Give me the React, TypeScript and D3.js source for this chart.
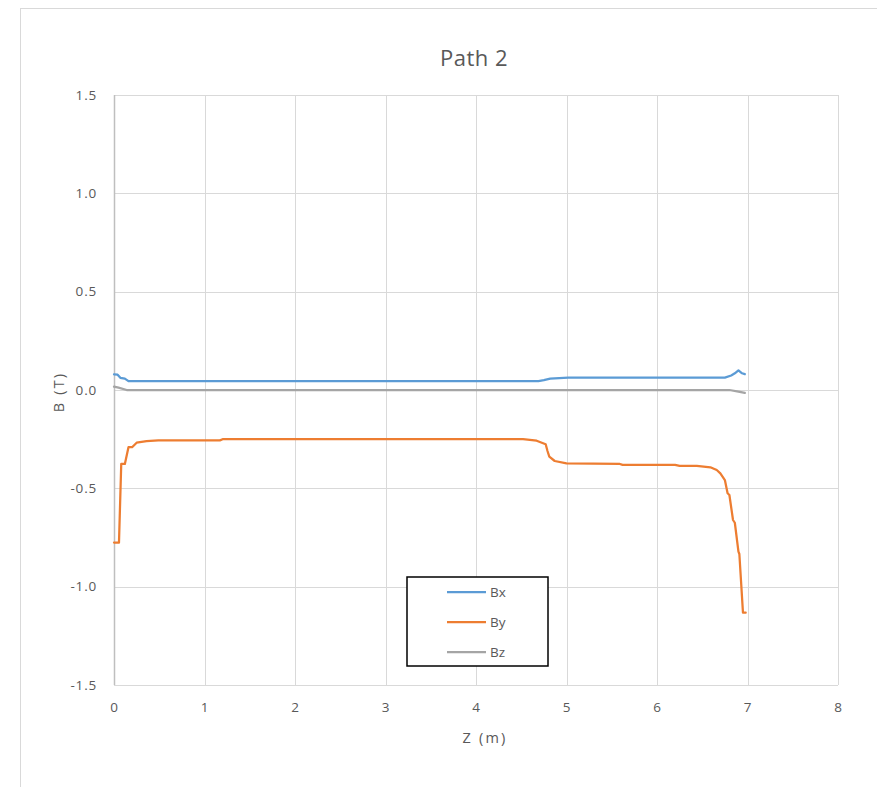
import React from "react";
import * as d3 from "d3";

const titleText = "Path 2";
const xLabel = "Z (m)";
const yLabel = "B (T)";
const xTicks = [0, 1, 2, 3, 4, 5, 6, 7, 8];
const yTicks = [-1.5, -1.0, -0.5, 0.0, 0.5, 1.0, 1.5];

const bxZ = [0, 0.04, 0.07, 0.12, 0.16, 1.0, 2.0, 3.0, 4.0, 4.69, 4.75, 4.82, 5.02, 5.5, 6.0, 6.5, 6.75, 6.82, 6.86, 6.90, 6.94, 6.97];
const bxB = [0.08, 0.078, 0.062, 0.058, 0.045, 0.045, 0.045, 0.045, 0.045, 0.045, 0.05, 0.058, 0.063, 0.063, 0.063, 0.063, 0.063, 0.074, 0.085, 0.1, 0.085, 0.081];

const byZ = [0, 0.055, 0.08, 0.12, 0.16, 0.2, 0.25, 0.36, 0.49, 1.17, 1.2, 2.0, 3.0, 4.0, 4.52, 4.67, 4.77, 4.79, 4.81, 4.87, 5.0, 5.59, 5.62, 6.2, 6.25, 6.44, 6.59, 6.66, 6.70, 6.75, 6.78, 6.80, 6.84, 6.86, 6.90, 6.91, 6.95, 6.98];
const byB = [-0.776, -0.776, -0.376, -0.376, -0.291, -0.291, -0.268, -0.26, -0.256, -0.256, -0.25, -0.25, -0.25, -0.25, -0.25, -0.258, -0.276, -0.31, -0.339, -0.361, -0.373, -0.376, -0.381, -0.381, -0.386, -0.386, -0.393, -0.407, -0.424, -0.458, -0.525, -0.534, -0.661, -0.675, -0.822, -0.834, -1.132, -1.132];

const bzZ = [0, 0.05, 0.14, 1.0, 2.0, 3.0, 4.0, 5.0, 6.0, 6.8, 6.9, 6.97];
const bzB = [0.017, 0.012, 0.0, 0.0, 0.0, 0.0, 0.0, 0.0, 0.0, 0.0, -0.008, -0.015];

const seriesNames = ["Bx", "By", "Bz"];
const seriesColors = ["#5B9BD5", "#ED7D31", "#A5A5A5"];

const W = 877;
const H = 787;
const left = 114;
const right = 838;
const top = 95;
const bottom = 685;
const font = "'Open Sans', Lato, sans-serif";
const textColor = "#595959";

const fmt = (t: number) => d3.format(".1f")(t).replace("\u2212", "-");

export default function App() {
  const x = d3.scaleLinear().domain([0, 8]).range([left, right]);
  const y = d3.scaleLinear().domain([-1.5, 1.5]).range([bottom, top]);
  const line = d3
    .line<[number, number]>()
    .x((d) => x(d[0]))
    .y((d) => y(d[1]));

  const series = [
    bxZ.map((z, i) => [z, bxB[i]] as [number, number]),
    byZ.map((z, i) => [z, byB[i]] as [number, number]),
    bzZ.map((z, i) => [z, bzB[i]] as [number, number]),
  ];

  const legX = 407;
  const legY = 577;
  const legW = 141;
  const legH = 89;

  return (
    <svg
      width={W}
      height={H}
      style={{ position: "absolute", left: 0, top: 0, background: "#fff" }}
    >
      <rect x={0} y={0} width={W} height={H} fill="#fff" />
      <rect x={20.5} y={8.5} width={W + 20} height={H + 20} fill="#fff" stroke="#d9d9d9" strokeWidth={1} />
      <text
        x={474}
        y={66}
        textAnchor="middle"
        fontFamily={font}
        fontSize={22}
        letterSpacing={0.5}
        fill={textColor}
      >
        {titleText}
      </text>
      {yTicks.map((t) => (
        <line key={"gy" + t} x1={left} x2={right} y1={Math.round(y(t)) + 0.5} y2={Math.round(y(t)) + 0.5} stroke="#d9d9d9" strokeWidth={1} />
      ))}
      {xTicks.map((t) => (
        <line key={"gx" + t} x1={Math.round(x(t)) + 0.5} x2={Math.round(x(t)) + 0.5} y1={top} y2={bottom} stroke={t === 0 ? "#bfbfbf" : "#d9d9d9"} strokeWidth={t === 0 ? 1.5 : 1} />
      ))}
      {yTicks.map((t) => (
        <text key={"ty" + t} x={left - 17} y={y(t) + 4.5} textAnchor="end" fontFamily={font} fontSize={13.5} letterSpacing={0.8} fill={textColor}>
          {fmt(t)}
        </text>
      ))}
      {xTicks.map((t) => (
        <text key={"tx" + t} x={x(t)} y={bottom + 27} textAnchor="middle" fontFamily={font} fontSize={13.5} fill={textColor}>
          {t}
        </text>
      ))}
      <text x={485} y={743} textAnchor="middle" fontFamily={font} fontSize={14.5} letterSpacing={2.2} fill={textColor}>
        {xLabel}
      </text>
      <text
        transform={`translate(64, ${y(0) + 2}) rotate(-90)`}
        textAnchor="middle"
        fontFamily={font}
        fontSize={14.5}
        letterSpacing={2.2}
        fill={textColor}
      >
        {yLabel}
      </text>
      {series.map((s, i) => (
        <path key={"s" + i} d={line(s) || ""} fill="none" stroke={seriesColors[i]} strokeWidth={2.25} strokeLinejoin="round" strokeLinecap="round" />
      ))}
      <rect x={legX} y={legY} width={legW} height={legH} fill="#fff" stroke="#000" strokeWidth={1.5} />
      {seriesNames.map((n, i) => (
        <g key={"l" + n}>
          <line x1={447} x2={486} y1={legY + 15 + i * 30} y2={legY + 15 + i * 30} stroke={seriesColors[i]} strokeWidth={2.25} />
          <text x={490} y={legY + 20 + i * 30} fontFamily={font} fontSize={13.5} fill={textColor}>
            {n}
          </text>
        </g>
      ))}
    </svg>
  );
}
